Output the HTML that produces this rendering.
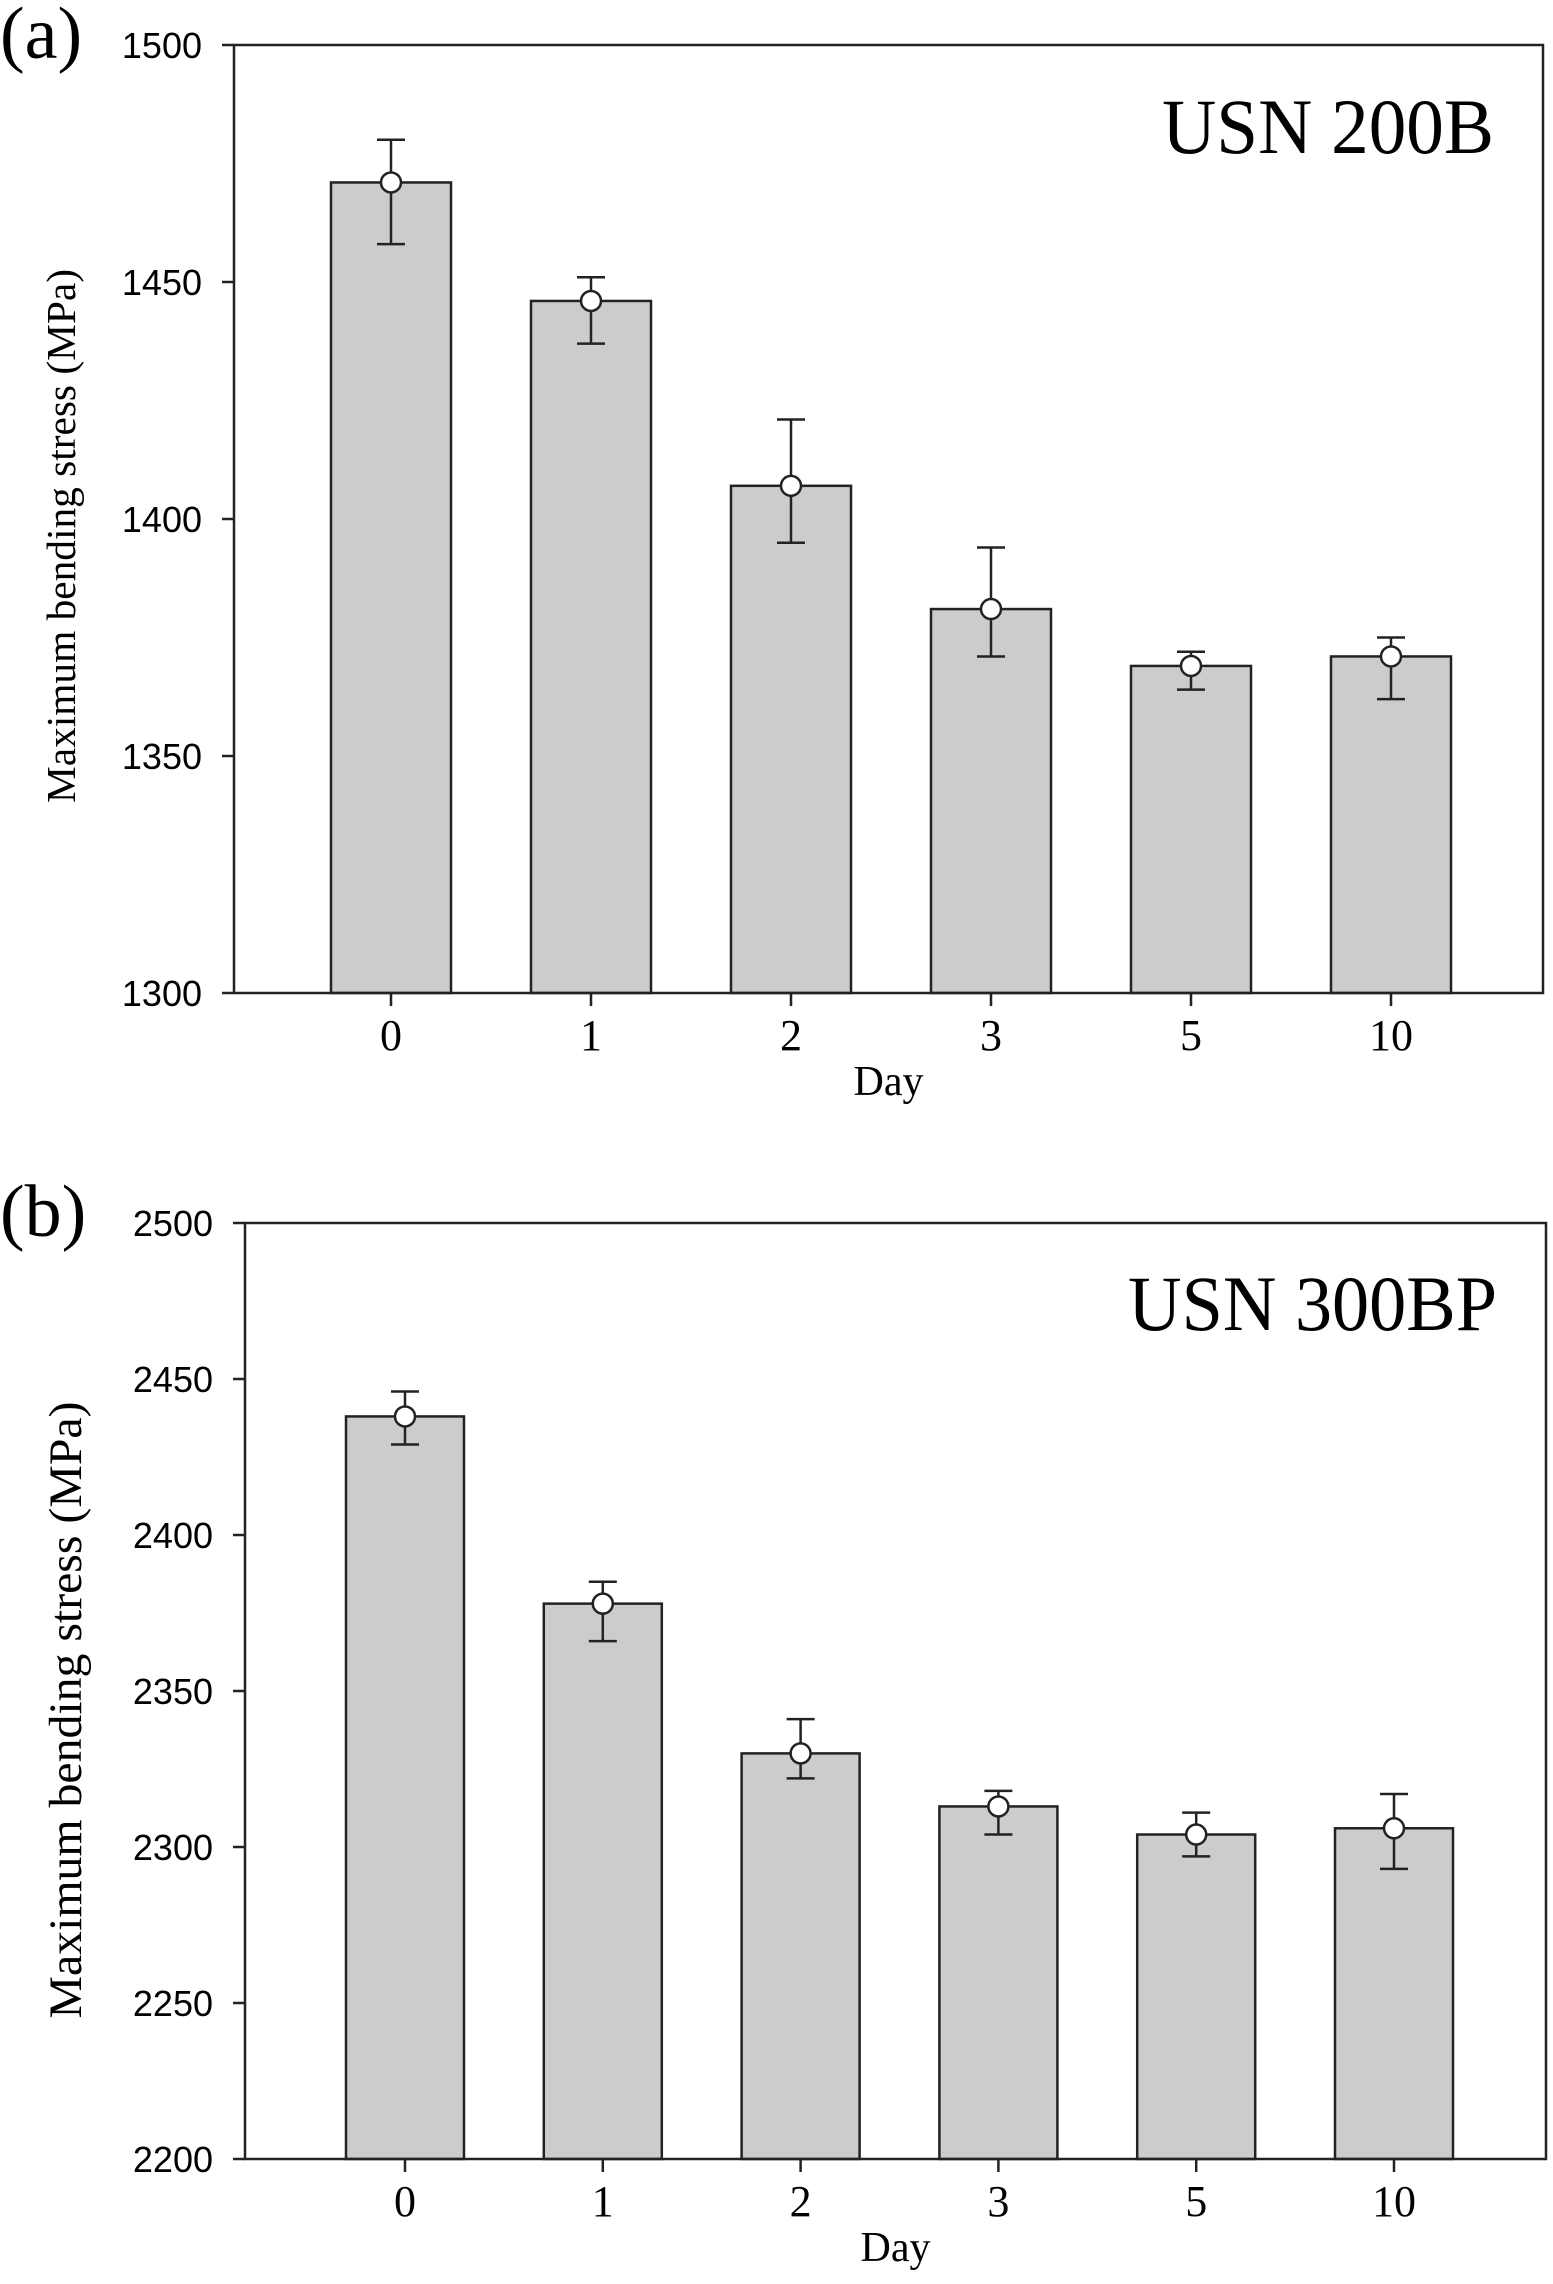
<!DOCTYPE html>
<html><head><meta charset="utf-8">
<style>
html,body{margin:0;padding:0;background:#fff;}
svg{display:block;}
</style></head>
<body>
<svg id="chart" width="1553" height="2284" viewBox="0 0 1553 2284" xmlns="http://www.w3.org/2000/svg"></svg>
<script>
const categories = ["0","1","2","3","5","10"];
const seriesA = [1471, 1446, 1407, 1381, 1369, 1371];
const errLowA = [1458, 1437, 1395, 1371, 1364, 1362];
const errHighA = [1480, 1451, 1421, 1394, 1372, 1375];
const ticksA = [1300, 1350, 1400, 1450, 1500];
const seriesB = [2438, 2378, 2330, 2313, 2304, 2306];
const errLowB = [2429, 2366, 2322, 2304, 2297, 2293];
const errHighB = [2446, 2385, 2341, 2318, 2311, 2317];
const ticksB = [2200, 2250, 2300, 2350, 2400, 2450, 2500];

const NS = "http://www.w3.org/2000/svg";
const svg = document.getElementById('chart');
function mk(tag, attrs, parent, text){
  const e = document.createElementNS(NS, tag);
  for (const k in attrs) e.setAttribute(k, attrs[k]);
  if (text !== undefined) e.textContent = text;
  (parent||svg).appendChild(e);
  return e;
}
function panel(cfg){
  const g = mk('g', {});
  
  
  const yMin = cfg.ticks[0], yMax = cfg.ticks[cfg.ticks.length-1];
  const y = v => cfg.bottom - (v - yMin) / (yMax - yMin) * (cfg.bottom - cfg.top);
  const x = i => cfg.x0 + i * cfg.step;
  cfg.values.forEach((v,i)=>{
    const r = mk('rect', {x: x(i)-cfg.bw/2, y: y(v), width: cfg.bw, height: cfg.bottom - y(v), fill:'#cccccc', stroke:'#222', 'stroke-width':2.5}, g);
    
    
    const e = mk('path', {d:`M${x(i)-14},${y(cfg.hi[i])}H${x(i)+14}M${x(i)},${y(cfg.hi[i])}V${y(cfg.lo[i])}M${x(i)-14},${y(cfg.lo[i])}H${x(i)+14}`, stroke:'#222', 'stroke-width':2.5, fill:'none'}, g);
    
    
    const c = mk('circle', {cx: x(i), cy: y(v), r: 10, fill:'#fff', stroke:'#222', 'stroke-width':2.5}, g);
    
    
    const t = mk('path', {d:`M${x(i)},${cfg.bottom}V${cfg.bottom+13}`, stroke:'#222','stroke-width':2.5}, g);
    
    
    const l = mk('text', {x: x(i), y: cfg.bottom+57, 'text-anchor':'middle', 'font-family':'"Liberation Serif", serif', 'font-size':44}, g, categories[i]);
    
    
  });
  const f = mk('rect', {x: cfg.left, y: cfg.top, width: cfg.right-cfg.left, height: cfg.bottom-cfg.top, fill:'none', stroke:'#222', 'stroke-width':2.5}, g);
  
  
  cfg.ticks.forEach(tv=>{
    const t = mk('path', {d:`M${cfg.left-12},${y(tv)}H${cfg.left}`, stroke:'#222','stroke-width':2.5}, g);
    
    
    const l = mk('text', {x: cfg.left-32, y: y(tv)+13, 'text-anchor':'end', 'font-family':'"Liberation Sans", sans-serif', 'font-size':36}, g, String(tv));
    
    
  });
  const xt = mk('text', {x: (cfg.left+cfg.right)/2, y: cfg.bottom+102, 'text-anchor':'middle', 'font-family':'"Liberation Serif", serif', 'font-size':42}, g, 'Day');
  
  
  const yt = mk('text', {x: 0, y: 0, 'text-anchor':'middle', transform:`translate(${cfg.ytx},${cfg.ytc}) rotate(-90)`, 'font-family':'"Liberation Serif", serif', 'font-size':cfg.ytSize, textLength: cfg.ytLen, lengthAdjust:'spacingAndGlyphs'}, g, 'Maximum bending stress (MPa)');
  
  
  const an = mk('text', {x: cfg.annX, y: cfg.annY, 'font-family':'"Liberation Serif", serif', 'font-size':78, textLength: cfg.annLen, lengthAdjust:'spacingAndGlyphs'}, g, cfg.ann);
  
  
  const pl = mk('text', {x: 0, y: cfg.plY, 'font-family':'"Liberation Serif", serif', 'font-size':74}, g, cfg.pl);
  
  
}
panel({name:'panel-a', left:234, right:1543, top:45, bottom:993, x0:391, step:200, bw:120,
  values:seriesA, lo:errLowA, hi:errHighA, ticks:ticksA, ytx:75, ytSize:41, ytc:536, ytLen:534,
  ann:'USN 200B', annX:1162, annY:153, annLen:332, pl:'(a)', plY:58});
panel({name:'panel-b', left:245, right:1546, top:1223, bottom:2159, x0:405, step:197.8, bw:118,
  values:seriesB, lo:errLowB, hi:errHighB, ticks:ticksB, ytx:81, ytSize:47, ytc:1710, ytLen:617,
  ann:'USN 300BP', annX:1128, annY:1330, annLen:369, pl:'(b)', plY:1236});
</script>
</body></html>
